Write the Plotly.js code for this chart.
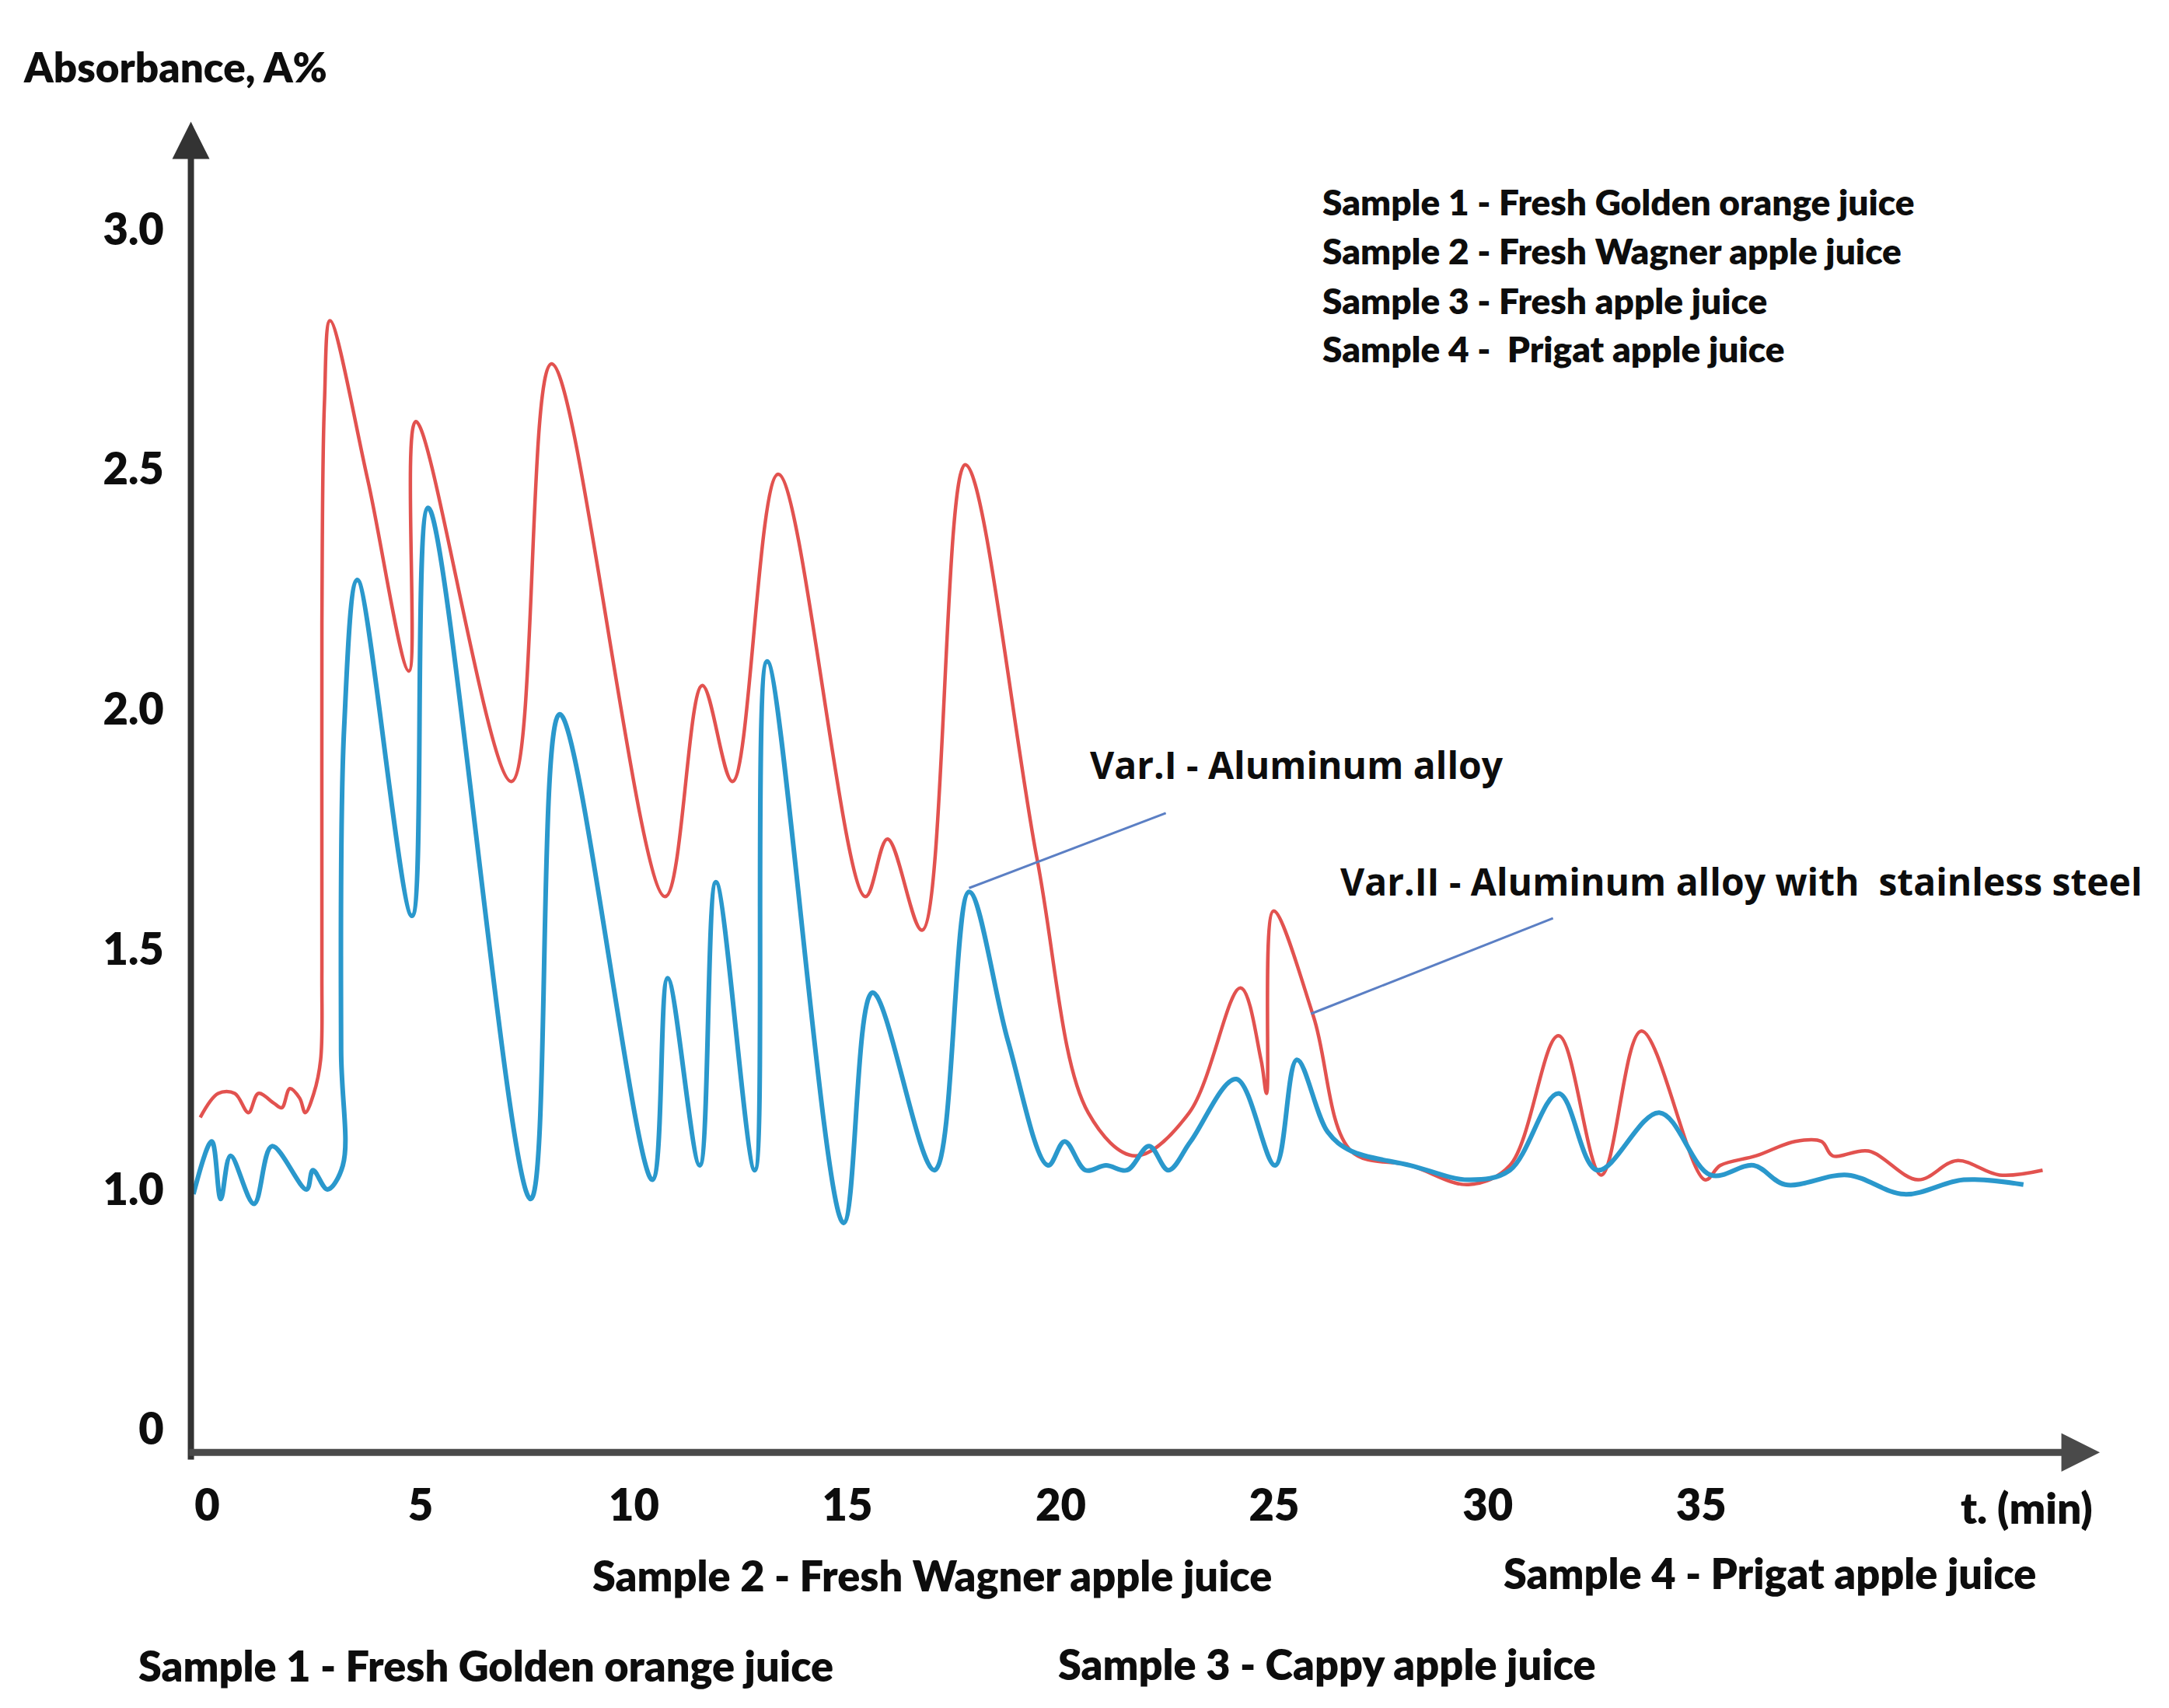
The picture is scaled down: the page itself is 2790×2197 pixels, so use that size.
<!DOCTYPE html>
<html>
<head>
<meta charset="utf-8">
<script src="https://cdn.plot.ly/plotly-3.0.1.min.js"></script>
<style>
  html, body { margin: 0; padding: 0; background: #fff; }
  #chart { width: 2790px; height: 2197px; }
</style>
</head>
<body>
<div id="chart"></div>
<script>
// time (min) and absorbance
var var2Time = [-0.16, 0.26, 0.65, 0.97, 1.20, 1.56, 1.75, 1.94, 2.17, 2.30, 2.50, 2.66, 2.69, 2.69, 2.75, 2.88,
  3.76, 4.73, 4.89, 7.13, 8.07, 10.73, 11.60, 12.31, 13.38, 15.42, 15.94, 16.75, 17.76,
  19.44, 20.64, 21.74, 23.01, 24.21, 24.69, 24.82, 24.98, 25.92, 26.80, 28.19, 29.55, 30.52, 31.66,
  32.66, 33.60, 35.09, 35.45, 36.29, 37.20, 37.82, 38.08, 38.92, 40.08, 40.99, 41.99, 43.00];
var var2Abs = [1.15, 1.20, 1.20, 1.16, 1.20, 1.18, 1.17, 1.21, 1.19, 1.16, 1.20, 1.27, 1.46, 2.18, 2.64, 2.81,
  2.48, 2.08, 2.60, 1.85, 2.72, 1.61, 2.05, 1.85, 2.49, 1.61, 1.73, 1.54, 2.51,
  1.69, 1.16, 1.07, 1.16, 1.42, 1.27, 1.20, 1.58, 1.36, 1.08, 1.05, 1.01, 1.05, 1.32,
  1.03, 1.33, 1.02, 1.05, 1.07, 1.10, 1.10, 1.07, 1.08, 1.02, 1.06, 1.03, 1.04];

var var1Time = [-0.32, 0.11, 0.32, 0.55, 1.10, 1.52, 2.33, 2.48, 2.82, 3.18, 3.14, 3.21, 3.52, 4.80, 5.18,
  7.58, 8.26, 10.43, 10.79, 11.54, 11.92, 12.83, 13.12, 14.91, 15.59, 17.04, 17.85, 18.76,
  19.70, 20.09, 20.58, 21.06, 21.55, 22.07, 22.52, 23.04, 24.11, 25.02, 25.53, 26.25, 26.80, 28.19, 29.55,
  30.52, 31.66, 32.57, 34.02, 35.22, 36.23, 36.97, 38.43, 39.76, 41.15, 42.55];
var var1Abs = [0.99, 1.10, 0.98, 1.07, 0.97, 1.09, 1.00, 1.04, 1.00, 1.05, 1.29, 1.96, 2.27, 1.57, 2.42,
  0.98, 1.99, 1.02, 1.44, 1.05, 1.64, 1.04, 2.10, 0.93, 1.41, 1.04, 1.62, 1.31,
  1.05, 1.10, 1.04, 1.05, 1.04, 1.09, 1.04, 1.10, 1.23, 1.05, 1.27, 1.12, 1.08, 1.05, 1.02,
  1.04, 1.20, 1.04, 1.16, 1.03, 1.05, 1.01, 1.03, 0.99, 1.02, 1.01];

var xTicks = [0, 5, 10, 15, 20, 25, 30, 35];
var yTicks = [0.5, 1.0, 1.5, 2.0, 2.5, 3.0];
var yTickText = ['0', '1.0', '1.5', '2.0', '2.5', '3.0'];

var legendLines = ['Sample 1 - Fresh Golden orange juice', 'Sample 2 - Fresh Wagner apple juice',
  'Sample 3 - Fresh apple juice', 'Sample 4 -&nbsp; Prigat apple juice'];

var W = 2790, H = 2197;
var K = W / 1568;   // reference sketch scale
var M = {l: 245, r: 95, t: 160, b: 329};
function xp(o) { return (o * K - M.l) / (W - M.l - M.r); }
function yp(o) { return 1 - (o * K - M.t) / (H - M.t - M.b); }

var FONT = 'Lato, Open Sans, sans-serif';
var FONT2 = 'Open Sans, Noto Sans, sans-serif';

var traces = [
  {x: var2Time, y: var2Abs, mode: 'lines', name: 'Var.II',
   line: {color: '#e2524f', width: 4.5, shape: 'spline', smoothing: 1}},
  {x: var1Time, y: var1Abs, mode: 'lines', name: 'Var.I',
   line: {color: '#2a98cc', width: 6, shape: 'spline', smoothing: 1}}
];

function label(text, left, cy, size, fam, wt) {
  return {xref: 'paper', yref: 'paper', x: xp(left), y: yp(cy), xanchor: 'left', yanchor: 'middle',
          text: text, showarrow: false,
          font: {family: fam || FONT, size: size, color: '#0d0d0d', weight: wt || 800}};
}

var ann = [];
// axes with arrows
ann.push({xref: 'paper', yref: 'paper', axref: 'paper', ayref: 'paper',
  x: xp(138), y: yp(88), ax: xp(138), ay: yp(1056), text: '', showarrow: true,
  arrowhead: 2, arrowsize: 1.2, arrowwidth: 8, arrowcolor: '#333'});
ann.push({xref: 'paper', yref: 'paper', axref: 'paper', ayref: 'paper',
  x: xp(1518), y: yp(1050), ax: xp(136), ay: yp(1050), text: '', showarrow: true,
  arrowhead: 2, arrowsize: 1.1, arrowwidth: 9, arrowcolor: '#4a4a4a'});

ann.push(label('Absorbance, A%', 16, 48, 53));
ann.push(label('t. (min)', 1416, 1090, 55));
legendLines.forEach(function (s, i) {
  ann.push(label(s, 955, [146, 181, 217, 252][i], 46));
});
ann.push(label('Sample 2 - Fresh Wagner apple juice', 427, 1139, 54));
ann.push(label('Sample 4 - Prigat apple juice', 1086, 1137, 54));
ann.push(label('Sample 1 - Fresh Golden orange juice', 99, 1204, 54));
ann.push(label('Sample 3 - Cappy apple juice', 764, 1203, 54));
ann.push(label('Var.I - Aluminum alloy', 787, 553, 48, FONT2, 'bold'));
ann.push(label('Var.II - Aluminum alloy with&nbsp; stainless steel', 968, 637, 48, FONT2, 'bold'));

var shapes = [
  {type: 'line', xref: 'x', yref: 'y', x0: 17.85, y0: 1.628, x1: 22.46, y1: 1.784,
   line: {color: '#5b7fc4', width: 3}},
  {type: 'line', xref: 'x', yref: 'y', x0: 25.86, y0: 1.366, x1: 31.53, y1: 1.565,
   line: {color: '#5b7fc4', width: 3}}
];

var layout = {
  width: W, height: H,
  margin: M,
  paper_bgcolor: '#fff', plot_bgcolor: '#fff',
  showlegend: false,
  xaxis: {range: [-0.389, 44.23], showgrid: false, zeroline: false, showline: false,
          tickvals: xTicks, ticks: 'outside', ticklen: 20, tickcolor: 'rgba(0,0,0,0)',
          tickfont: {family: FONT, size: 56, color: '#0d0d0d', weight: 800}},
  yaxis: {range: [0.4524, 3.219], showgrid: false, zeroline: false, showline: false,
          tickvals: yTicks, ticktext: yTickText, ticks: 'outside', ticklen: 22, tickcolor: 'rgba(0,0,0,0)',
          tickfont: {family: FONT, size: 56, color: '#0d0d0d', weight: 800}},
  annotations: ann,
  shapes: shapes
};

Plotly.newPlot('chart', traces, layout, {staticPlot: true});
</script>
</body>
</html>
